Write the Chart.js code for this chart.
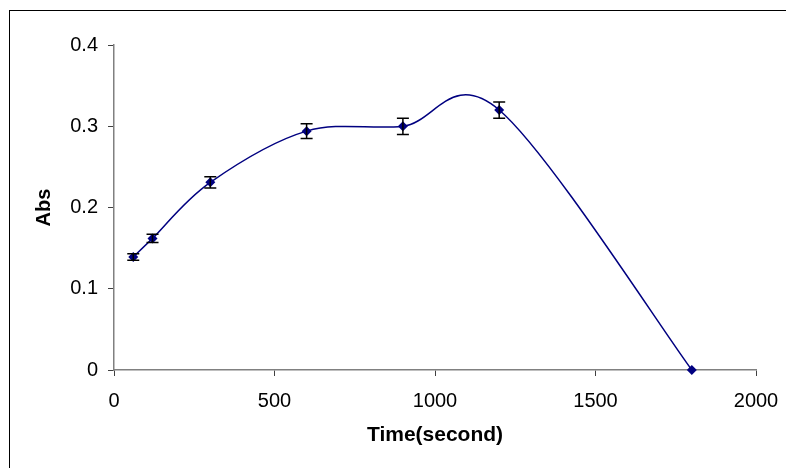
<!DOCTYPE html>
<html>
<head>
<meta charset="utf-8">
<script src="https://cdn.jsdelivr.net/npm/chart.js@4/dist/chart.umd.min.js"></script>
<style>
  html, body { margin: 0; padding: 0; background: #fff; }
  #wrap { width: 786px; height: 468px; }
</style>
</head>
<body>
<div id="wrap"><canvas id="myChart" width="786" height="468"></canvas></div>
<script>
/* global Chart */

// time points (s)
const times = [60, 120, 300, 600, 900, 1200, 1800];
// absorbance
const absValues = [0.139, 0.162, 0.231, 0.294, 0.300, 0.320, 0];
// error bar half-heights
const absErrors = [0.004, 0.005, 0.007, 0.009, 0.010, 0.010, 0];
// axis ticks
const xTicks = [0, 500, 1000, 1500, 2000];
const yTicks = [0, 0.1, 0.2, 0.3, 0.4];

const FONT = 'Arial, "Liberation Sans", sans-serif';

// white background plus the outer frame (it runs off the right and bottom)
const frame = {
  id: 'frame',
  beforeDraw(chart) {
    const c = chart.ctx;
    c.save();
    c.fillStyle = '#fff';
    c.fillRect(0, 0, chart.width, chart.height);
    c.strokeStyle = '#000';
    c.lineWidth = 1;
    c.strokeRect(9.5, 10.5, chart.width + 20, chart.height + 20);
    c.restore();
  }
};

// spreadsheet-style smoothed line: bezier arms of (next - prev) / 6
const smoothLine = {
  id: 'smoothLine',
  beforeDatasetsDraw(chart) {
    const pts = chart.getDatasetMeta(0).data.map(p => ({ x: p.x, y: p.y }));
    const c = chart.ctx;
    c.save();
    c.strokeStyle = '#000080';
    c.lineWidth = 1.5;
    c.beginPath();
    c.moveTo(pts[0].x, pts[0].y);
    for (let i = 0; i < pts.length - 1; i++) {
      const p0 = pts[i - 1] || pts[i];
      const p1 = pts[i];
      const p2 = pts[i + 1];
      const p3 = pts[i + 2] || pts[i + 1];
      c.bezierCurveTo(
        p1.x + (p2.x - p0.x) / 6, p1.y + (p2.y - p0.y) / 6,
        p2.x - (p3.x - p1.x) / 6, p2.y - (p3.y - p1.y) / 6,
        p2.x, p2.y
      );
    }
    c.stroke();
    c.restore();
  }
};

// vertical error bars with caps
const errorBars = {
  id: 'errorBars',
  afterDatasetsDraw(chart) {
    const c = chart.ctx;
    const xs = chart.scales.x, ys = chart.scales.y;
    c.save();
    c.strokeStyle = '#000';
    c.lineWidth = 1.5;
    times.forEach((t, i) => {
      if (!absErrors[i]) return;
      const px = xs.getPixelForValue(t);
      const top = ys.getPixelForValue(absValues[i] + absErrors[i]);
      const bot = ys.getPixelForValue(absValues[i] - absErrors[i]);
      c.beginPath();
      c.moveTo(px, top); c.lineTo(px, bot);
      c.moveTo(px - 6, top); c.lineTo(px + 6, top);
      c.moveTo(px - 6, bot); c.lineTo(px + 6, bot);
      c.stroke();
    });
    c.restore();
  }
};

const ctx = document.getElementById('myChart').getContext('2d');

const chart = new Chart(ctx, {
  type: 'scatter',
  data: {
    datasets: [{
      label: 'Abs',
      data: times.map((t, i) => ({ x: t, y: absValues[i] })),
      showLine: false,
      borderColor: '#000080',
      backgroundColor: '#000080',
      pointStyle: 'rectRot',
      pointRadius: 5,
      pointBorderWidth: 0,
      clip: false,
    }]
  },
  options: {
    responsive: false,
    animation: false,
    events: [],
    layout: { padding: { left: 28, right: 30, top: 45, bottom: 20 } },
    plugins: {
      legend: { display: false },
      tooltip: { enabled: false },
    },
    scales: {
      x: {
        type: 'linear',
        min: 0,
        max: 2000,
        afterBuildTicks: (s) => { s.ticks = xTicks.map(v => ({ value: v })); },
        afterFit: (s) => {
          s.height = 468 - 370 - 20;
          s.paddingLeft = 0;
          s.paddingRight = 0;
        },
        border: { color: '#808080', width: 1.5 },
        grid: { drawOnChartArea: false, color: '#404040', tickLength: 6, lineWidth: 1 },
        ticks: {
          color: '#000',
          font: { family: FONT, size: 20 },
          padding: 13,
          maxRotation: 0,
          callback: (v) => String(v),
        },
        title: {
          display: true,
          text: 'Time(second)',
          color: '#000',
          font: { family: FONT, size: 21, weight: 'bold' },
          padding: { top: 0, bottom: 0 },
        },
      },
      y: {
        min: 0,
        max: 0.4,
        afterBuildTicks: (s) => { s.ticks = yTicks.map(v => ({ value: v })); },
        afterFit: (s) => {
          s.width = 114 - 28;
          s.paddingTop = 0;
          s.paddingBottom = 0;
        },
        border: { color: '#808080', width: 1.5 },
        grid: { drawOnChartArea: false, color: '#404040', tickLength: 6, lineWidth: 1 },
        ticks: {
          color: '#000',
          font: { family: FONT, size: 20 },
          padding: 10,
          callback: (v) => String(v),
        },
        title: {
          display: true,
          text: 'Abs',
          color: '#000',
          font: { family: FONT, size: 20, weight: 'bold' },
          padding: { top: 4, bottom: 0 },
        },
      }
    }
  },
  plugins: [frame, smoothLine, errorBars],
});
console.log(chart.chartArea);
</script>
</body>
</html>
